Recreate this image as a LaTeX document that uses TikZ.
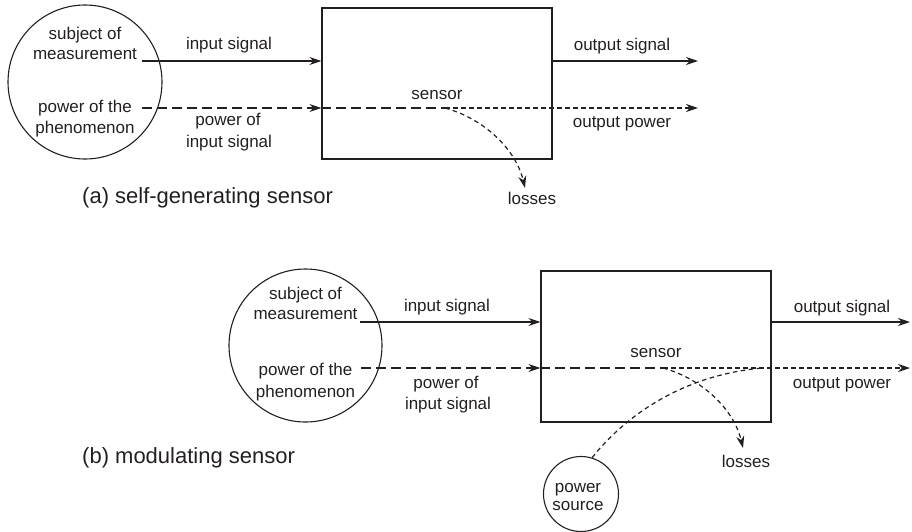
\documentclass[tikz,border=0pt]{standalone}
\usepackage{fontspec}
\setmainfont{Liberation Sans}
\usetikzlibrary{arrows.meta}
\definecolor{ink}{HTML}{231F20}
\begin{document}
\begin{tikzpicture}[x=1pt,y=-1pt,
  lbl/.style={font=\fontsize{17}{20}\selectfont, anchor=base, inner sep=0pt, text=ink},
  capt/.style={font=\fontsize{22}{26}\selectfont, anchor=base west, inner sep=0pt, text=ink},
  sbox/.style={draw=ink, line width=1.2pt, minimum width=230pt, minimum height=151pt, inner sep=0pt},
  src/.style={draw=ink, line width=1.1pt, circle, inner sep=0pt},
  conn/.style={draw=ink, line width=1.2pt},
  arr/.style={-{Stealth[length=12pt,width=8pt,inset=3.8pt]}},
  longdash/.style={dash pattern=on 10pt off 5pt},
  shortdash/.style={dash pattern=on 4.5pt off 3.5pt},
]
\useasboundingbox (0,0) rectangle (912,531);

% ---------------- (a) self-generating sensor ----------------
\node[src, minimum size=154pt] (subjA) at (85,82) {};
\node[lbl] (subjA1) at (85,39) {subject of};
\node[lbl] (subjA2) at (85,59) {measurement};
\node[lbl] (powA1) at (85,112) {power of the};
\node[lbl] (powA2) at (85,133) {phenomenon};

\node[sbox] (boxA) at (437,83.5) {};
\node[lbl] (sensA) at (437,99) {sensor};

\coordinate (inA) at (142,61);
\coordinate (pinA) at (142,108);
\coordinate (brA) at (445,108);
\coordinate (outA) at (698,61);
\coordinate (poutA) at (698,108);
\coordinate (lossA) at (525,188);

\draw[conn, arr] (inA) -- (boxA.west |- inA);
\draw[conn, arr] (boxA.east |- inA) -- (outA);
\draw[conn, longdash, arr] (pinA) -- (boxA.west |- pinA);
\draw[conn, longdash] (boxA.west |- pinA) -- (brA);
\draw[conn, shortdash, arr] (brA) -- (poutA);
\draw[conn, shortdash, arr] (brA) .. controls (485,119) and (516,150) .. (lossA);

\node[lbl] (inlblA) at (229,49) {input signal};
\node[lbl] (pinlblA1) at (228,125) {power of};
\node[lbl] (pinlblA2) at (229,147) {input signal};
\node[lbl] (outlblA) at (622,50) {output signal};
\node[lbl] (poutlblA) at (622,127) {output power};
\node[lbl] (losslblA) at (532,204) {losses};
\node[capt] (capA) at (82,203) {(a) self-generating sensor};

% ---------------- (b) modulating sensor ----------------
\node[src, minimum size=153pt] (subjB) at (305.5,345.5) {};
\node[lbl] (subjB1) at (305.5,299) {subject of};
\node[lbl] (subjB2) at (305.5,319) {measurement};
\node[lbl] (powB1) at (305.5,375) {power of the};
\node[lbl] (powB2) at (305.5,397) {phenomenon};

\node[sbox] (boxB) at (656,346.5) {};
\node[lbl] (sensB) at (656,357) {sensor};

\node[src, minimum size=75pt] (srcB) at (581,494) {};
\node[lbl] (srcB1) at (578,492) {power};
\node[lbl] (srcB2) at (578,510) {source};

\coordinate (inB) at (360,322);
\coordinate (pinB) at (361,368);
\coordinate (brB) at (663,368);
\coordinate (outB) at (910,322);
\coordinate (poutB) at (910,368);
\coordinate (lossB) at (743,448);
\coordinate (joinB) at (763,368);

\draw[conn, arr] (inB) -- (boxB.west |- inB);
\draw[conn, arr] (boxB.east |- inB) -- (outB);
\draw[conn, longdash, arr] (pinB) -- (boxB.west |- pinB);
\draw[conn, longdash] (boxB.west |- pinB) -- (brB);
\draw[conn, shortdash, arr] (brB) -- (poutB);
\draw[conn, shortdash, arr] (brB) .. controls (703,379) and (734,410) .. (lossB);
\draw[conn, shortdash] (srcB.73) .. controls (630,410) and (690,374) .. (joinB);

\node[lbl] (inlblB) at (447,311) {input signal};
\node[lbl] (pinlblB1) at (446,388) {power of};
\node[lbl] (pinlblB2) at (448,409) {input signal};
\node[lbl] (outlblB) at (842,312) {output signal};
\node[lbl] (poutlblB) at (842,388) {output power};
\node[lbl] (losslblB) at (746,467) {losses};
\node[capt] (capB) at (82,463) {(b) modulating sensor};
\end{tikzpicture}
\end{document}
